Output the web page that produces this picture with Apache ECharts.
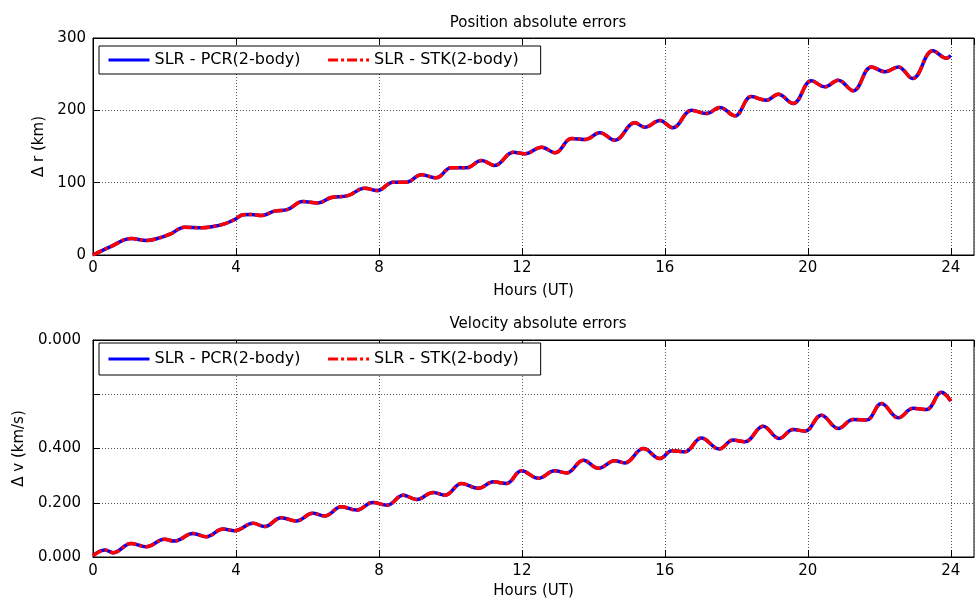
<!DOCTYPE html>
<html>
<head>
<meta charset="utf-8">
<script src="https://cdn.jsdelivr.net/npm/echarts@6/dist/echarts.min.js"></script>
<style>
  html, body { margin: 0; padding: 0; background: #fff; }
  #main { width: 976px; height: 602px; }
</style>
</head>
<body>
<div id="main"></div>
<script>
// position errors (km)
const posHours = [0, 0.51, 1.07, 1.49, 1.86, 2.19, 2.56, 3.03, 3.40, 3.68,
  3.96, 4.20, 4.43, 4.71, 5.08, 5.45, 5.87, 6.29, 6.67, 7.13,
  7.60, 7.95, 8.40, 8.77, 9.19, 9.60, 10.02, 10.45, 10.87, 11.24,
  11.76, 12.08, 12.55, 12.93, 13.39, 13.77, 14.18, 14.60, 15.16, 15.44,
  15.86, 16.22, 16.75, 17.17, 17.54, 17.96, 18.42, 18.84, 19.17, 19.59,
  20.10, 20.48, 20.85, 21.27, 21.78, 22.16, 22.53, 22.93, 23.50, 23.88, 24.0];
const posKm = [0, 12, 22.8, 20, 23.7, 29.7, 38.5, 37.6, 39.8, 43,
  49, 55.5, 56, 54.6, 60.6, 63, 74, 72, 79.5, 82,
  92.4, 89, 100.7, 100.7, 111, 106.7, 120.5, 120.5, 130.6, 123.7,
  142, 140, 149, 141.3, 161, 159.7, 169, 158.7, 182.8, 176.7,
  186, 175.8, 200, 195.6, 204, 192.4, 219, 214, 222.3, 209.5,
  240.8, 232.5, 241.7, 227, 260, 253.3, 260, 244, 282.3, 272, 276];

// velocity errors (km/s)
const velHours = [0, 0.33, 0.56, 1.07, 1.49, 2.0, 2.28, 2.8, 3.17, 3.64,
  3.96, 4.48, 4.8, 5.27, 5.69, 6.15, 6.48, 6.95, 7.37, 7.83,
  8.23, 8.68, 9.05, 9.52, 9.85, 10.31, 10.78, 11.2, 11.57, 11.99,
  12.46, 12.92, 13.25, 13.72, 14.14, 14.6, 14.88, 15.4, 15.86, 16.2,
  16.56, 17.02, 17.52, 17.91, 18.24, 18.75, 19.2, 19.59, 19.92, 20.38,
  20.85, 21.27, 21.64, 22.06, 22.53, 22.95, 23.32, 23.74, 24.0];
const velKms = [0.005, 0.026, 0.016, 0.05, 0.038, 0.065, 0.059, 0.087, 0.075, 0.103,
  0.097, 0.124, 0.112, 0.145, 0.133, 0.161, 0.151, 0.185, 0.173, 0.201,
  0.191, 0.228, 0.212, 0.238, 0.228, 0.271, 0.253, 0.277, 0.271, 0.318,
  0.29, 0.318, 0.31, 0.357, 0.327, 0.355, 0.347, 0.4, 0.363, 0.392,
  0.388, 0.439, 0.398, 0.431, 0.425, 0.482, 0.437, 0.47, 0.464, 0.523,
  0.474, 0.507, 0.505, 0.566, 0.513, 0.548, 0.544, 0.607, 0.575];

// tick labels as printed on the velocity axis (0.6 is blank, top reads 0.000)
const velTickLabels = ['0.000', '0.200', '0.400', '', '0.000'];
const seriesNames = ['SLR - PCR(2-body)', 'SLR - STK(2-body)'];

function pairs(xs, ys) {
  return xs.map(function (x, i) { return [x, ys[i]]; });
}

var myChart = echarts.init(document.getElementById('main'));
var font = 'DejaVu Sans';
var dotted = { color: '#555', type: [1, 2], width: 1 };

function xBottom(gi, margin, gap) {
  return {
    type: 'value', gridIndex: gi, min: 0, max: 24.65, interval: 4,
    name: 'Hours (UT)', nameLocation: 'middle', nameGap: gap,
    nameTextStyle: { color: '#000', fontSize: 15, fontFamily: font },
    axisLine: { lineStyle: { color: '#000' } },
    axisTick: { inside: true, length: 7, lineStyle: { color: '#000' } },
    axisLabel: { color: '#000', fontSize: 15, fontFamily: font, margin: margin, showMaxLabel: false },
    splitLine: { show: true, lineStyle: dotted }
  };
}
function xTop(gi) {
  return {
    type: 'value', gridIndex: gi, position: 'top', min: 0, max: 24.65, interval: 4,
    axisLine: { lineStyle: { color: '#000' } },
    axisTick: { inside: true, length: 7, lineStyle: { color: '#000' } },
    axisLabel: { show: false },
    splitLine: { show: false }
  };
}
function legend(top, pad) {
  return {
    data: seriesNames, left: 99, top: top, orient: 'horizontal',
    borderColor: '#000', borderWidth: 1, borderRadius: 0,
    backgroundColor: '#fff', padding: pad, itemGap: 26,
    itemWidth: 41, itemHeight: 14,
    itemStyle: { opacity: 0 },
    lineStyle: { width: 3 },
    textStyle: { color: '#000', fontSize: 16, fontFamily: font }
  };
}
function lines(xi, yi, data) {
  return [{
    name: seriesNames[0], type: 'line', xAxisIndex: xi, yAxisIndex: yi,
    data: data, smooth: 0.4, symbol: 'none',
    lineStyle: { color: '#0000ff', width: 3.5, type: 'solid' },
    itemStyle: { color: '#0000ff' }
  }, {
    name: seriesNames[1], type: 'line', xAxisIndex: xi, yAxisIndex: yi,
    data: data, smooth: 0.4, symbol: 'none',
    lineStyle: { color: '#ff0000', width: 3.5, type: [10, 3, 3, 3] },
    itemStyle: { color: '#ff0000' }
  }];
}

myChart.setOption({
  animation: false,
  backgroundColor: '#fff',
  title: [{
    text: 'Position absolute errors', left: 533, top: 11, textAlign: 'center',
    textStyle: { color: '#000', fontSize: 15, fontWeight: 'normal', fontFamily: font }
  }, {
    text: 'Velocity absolute errors', left: 533, top: 312, textAlign: 'center',
    textStyle: { color: '#000', fontSize: 15, fontWeight: 'normal', fontFamily: font }
  }],
  legend: [legend(46, [6, 22, 6, 8]), legend(343, [8, 22, 8, 8])],
  grid: [
    { left: 93, right: 2, top: 38, height: 217, show: true, borderColor: '#000', borderWidth: 1 },
    { left: 93, right: 2, top: 340, height: 217, show: true, borderColor: '#000', borderWidth: 1 }
  ],
  xAxis: [xBottom(0, 6, 29), xTop(0), xBottom(1, 7, 27), xTop(1)],
  yAxis: [{
    type: 'value', gridIndex: 0, min: 0, max: 300, interval: 100,
    name: 'Δ r (km)', nameLocation: 'middle', nameGap: 46, nameRotate: 90,
    nameTextStyle: { color: '#000', fontSize: 15, fontFamily: font },
    axisLine: { show: true, lineStyle: { color: '#000' } },
    axisTick: { show: true, inside: true, length: 7, lineStyle: { color: '#000' } },
    axisLabel: { color: '#000', fontSize: 15, fontFamily: font, margin: 7 },
    splitLine: { show: true, lineStyle: dotted }
  }, {
    type: 'value', gridIndex: 1, min: 0, max: 0.8, interval: 0.2,
    name: 'Δ v (km/s)', nameLocation: 'middle', nameGap: 66, nameRotate: 90,
    nameTextStyle: { color: '#000', fontSize: 15, fontFamily: font },
    axisLine: { show: true, lineStyle: { color: '#000' } },
    axisTick: { show: true, inside: true, length: 7, lineStyle: { color: '#000' } },
    axisLabel: {
      color: '#000', fontSize: 15, fontFamily: font, margin: 12,
      formatter: function (v) { return velTickLabels[Math.round(v / 0.2)]; }
    },
    splitLine: { show: true, lineStyle: dotted }
  }],
  series: lines(0, 0, pairs(posHours, posKm)).concat(lines(2, 1, pairs(velHours, velKms)))
});
</script>
</body>
</html>
